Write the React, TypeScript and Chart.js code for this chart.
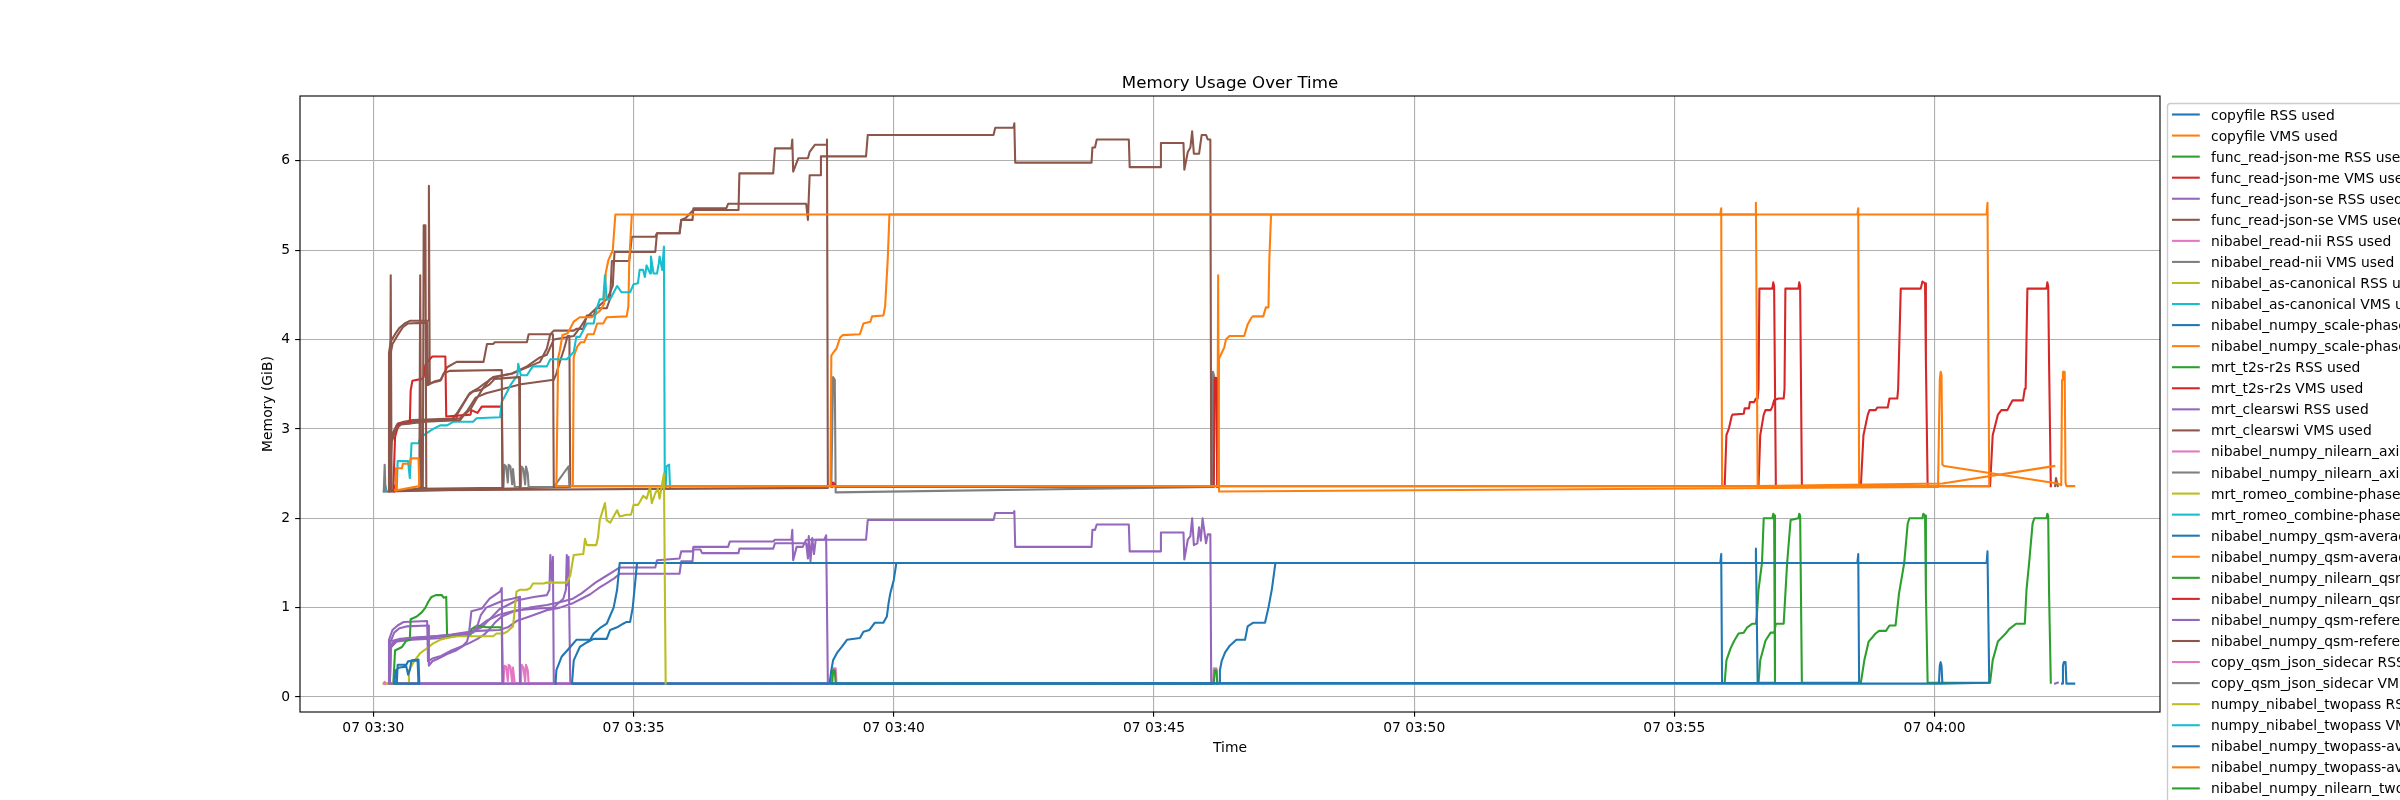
import React, { useEffect, useRef } from "react";
import { Chart, registerables } from "chart.js";

Chart.register(...registerables);

type Sample = [string, number];

// ---------------- axes ----------------
const xTickTimes = ["03:30", "03:35", "03:40", "03:45", "03:50", "03:55", "04:00"];
const xTickDay = "07";
const xLimits = ["03:28:35.4", "04:04:19.9"];
const yTicks = [0, 1, 2, 3, 4, 5, 6];
const yLimits = [-0.168, 6.726];

const chartTitle = "Memory Usage Over Time";
const xAxisTitle = "Time";
const yAxisTitle = "Memory (GiB)";

// ---------------- series (time, GiB) ----------------
const copyfileRss: Sample[] = [
  ["03:30:24", 0.15], ["03:30:26", 0.30], ["03:30:30", 0.33], ["03:30:38", 0.34], ["03:30:40", 0.25],
  ["03:30:42", 0.30], ["03:30:44", 0.41], ["03:30:52", 0.42], ["03:30:53", 0.15], ["03:30:27", 0.15],
  ["03:30:28", 0.36], ["03:30:38", 0.36], ["03:30:40", 0.40], ["03:30:51", 0.41], ["03:30:52", 0.15],
];
const copyfileVms: Sample[] = [
  ["03:30:25", 2.32], ["03:30:26", 2.56], ["03:30:33", 2.56], ["03:30:34", 2.61], ["03:30:42", 2.61],
  ["03:30:43", 2.67], ["03:30:52", 2.67], ["03:30:53", 2.36], ["03:30:25", 2.31],
];
const readJsonMeRss: Sample[] = [["03:30:24", 0.15], ["03:30:25", 0.17], ["03:30:26", 0.15]];
const readJsonMeVms: Sample[] = [["03:30:24", 2.30], ["03:30:25", 2.37], ["03:30:26", 2.31]];
const readJsonSeRss: Sample[] = [
  ["03:30:18", 0.15], ["03:30:19", 0.60], ["03:30:24", 0.72], ["03:30:30", 0.77], ["03:30:38", 0.79],
  ["03:31:03", 0.80], ["03:31:04", 0.35], ["03:31:08", 0.40], ["03:31:15", 0.43], ["03:31:25", 0.48],
  ["03:31:35", 0.52], ["03:31:42", 0.56], ["03:31:48", 0.62], ["03:31:50", 0.70], ["03:31:51", 0.78],
  ["03:31:53", 0.96], ["03:32:05", 0.99], ["03:32:09", 1.04], ["03:32:14", 1.10], ["03:32:20", 1.14],
  ["03:32:26", 1.18], ["03:32:28", 1.22], ["03:32:29", 0.15],
  ["03:30:19", 0.15], ["03:30:20", 0.58], ["03:30:25", 0.63], ["03:30:40", 0.66], ["03:31:10", 0.68],
  ["03:31:40", 0.70], ["03:31:55", 0.72], ["03:32:00", 0.80], ["03:32:04", 0.92], ["03:32:10", 1.00],
  ["03:32:20", 1.04], ["03:32:30", 1.08], ["03:32:40", 1.10], ["03:32:48", 1.12], ["03:32:49", 0.15],
];
const readJsonSeVms: Sample[] = [
  ["03:30:19", 2.30], ["03:30:20", 4.72], ["03:30:21", 2.30],
  ["03:30:18", 2.30], ["03:30:19", 3.80], ["03:30:22", 3.95], ["03:30:28", 4.05], ["03:30:34", 4.14],
  ["03:30:40", 4.18], ["03:31:02", 4.19], ["03:31:03", 3.49], ["03:31:10", 3.53], ["03:31:18", 3.55],
  ["03:31:21", 3.62], ["03:31:28", 3.65], ["03:32:28", 3.66], ["03:32:29", 2.34],
  ["03:30:53", 2.33], ["03:30:54", 4.72], ["03:30:55", 2.33], ["03:30:57", 2.33], ["03:30:58", 5.28],
  ["03:31:00", 5.28], ["03:31:01", 2.34],
  ["03:30:19", 2.30], ["03:30:21", 2.85], ["03:30:26", 3.00], ["03:30:32", 3.05], ["03:31:00", 3.08],
  ["03:31:40", 3.10], ["03:31:44", 3.15], ["03:31:52", 3.22], ["03:31:58", 3.32], ["03:32:06", 3.45],
  ["03:32:14", 3.50], ["03:32:20", 3.56], ["03:32:48", 3.58], ["03:32:49", 2.34],
];
const readNiiRss: Sample[] = [["03:30:12", 0.15], ["03:30:13", 0.17], ["03:30:14", 0.15]];
const readNiiVms: Sample[] = [["03:30:12", 2.30], ["03:30:13", 2.60], ["03:30:14", 2.30]];
const asCanonicalRss: Sample[] = [
  ["03:30:12", 0.15], ["03:30:40", 0.15], ["03:30:41", 0.30], ["03:30:47", 0.40], ["03:30:54", 0.49],
  ["03:31:01", 0.54], ["03:31:09", 0.60], ["03:31:17", 0.64], ["03:31:25", 0.66], ["03:31:36", 0.68],
  ["03:32:18", 0.68], ["03:32:22", 0.71], ["03:32:30", 0.71], ["03:32:34", 0.73], ["03:32:41", 0.79],
  ["03:32:45", 1.18], ["03:32:49", 1.20], ["03:32:57", 1.20], ["03:33:01", 1.22], ["03:33:04", 1.27],
  ["03:33:16", 1.27], ["03:33:20", 1.28], ["03:33:43", 1.28], ["03:33:47", 1.36], ["03:33:51", 1.59],
  ["03:34:02", 1.60], ["03:34:04", 1.77], ["03:34:06", 1.70], ["03:34:17", 1.70], ["03:34:19", 1.79],
  ["03:34:21", 1.98], ["03:34:27", 2.17], ["03:34:29", 1.98], ["03:34:33", 1.95], ["03:34:41", 2.09],
  ["03:34:44", 2.02], ["03:34:52", 2.04], ["03:34:57", 2.04], ["03:35:00", 2.15], ["03:35:05", 2.15],
  ["03:35:07", 2.18], ["03:35:11", 2.25], ["03:35:15", 2.22], ["03:35:19", 2.35], ["03:35:21", 2.17],
  ["03:35:25", 2.28], ["03:35:28", 2.33], ["03:35:30", 2.22], ["03:35:35", 2.50], ["03:35:37", 0.15],
];
const asCanonicalVms: Sample[] = [
  ["03:30:27", 2.33], ["03:30:28", 2.64], ["03:30:40", 2.64], ["03:30:42", 2.45], ["03:30:44", 2.84],
  ["03:30:52", 2.84], ["03:30:54", 2.90], ["03:31:01", 2.95], ["03:31:09", 3.00], ["03:31:17", 3.04],
  ["03:31:25", 3.04], ["03:31:32", 3.08], ["03:31:55", 3.08], ["03:31:59", 3.12], ["03:32:26", 3.13],
  ["03:32:28", 3.30], ["03:32:34", 3.41], ["03:32:38", 3.49], ["03:32:46", 3.60], ["03:32:47", 3.73],
  ["03:32:50", 3.60], ["03:32:57", 3.60], ["03:33:01", 3.66], ["03:33:04", 3.70], ["03:33:20", 3.70],
  ["03:33:24", 3.78], ["03:33:43", 3.78], ["03:33:51", 3.86], ["03:33:54", 4.03], ["03:33:58", 4.03],
  ["03:34:06", 4.18], ["03:34:14", 4.18], ["03:34:17", 4.33], ["03:34:21", 4.45], ["03:34:25", 4.45],
  ["03:34:27", 4.72], ["03:34:29", 4.45], ["03:34:33", 4.45], ["03:34:41", 4.60], ["03:34:46", 4.53],
  ["03:34:56", 4.53], ["03:35:00", 4.62], ["03:35:05", 4.63], ["03:35:07", 4.78], ["03:35:11", 4.78],
  ["03:35:13", 4.70], ["03:35:15", 4.83], ["03:35:19", 4.74], ["03:35:20", 4.93], ["03:35:23", 4.74],
  ["03:35:27", 4.74], ["03:35:29", 4.85], ["03:35:30", 4.93], ["03:35:33", 4.78], ["03:35:35", 5.04],
  ["03:35:36", 2.35],
];
const scalePhaseRss: Sample[] = [
  ["03:33:30", 0.15], ["03:33:31", 0.30], ["03:33:37", 0.45], ["03:33:47", 0.56], ["03:33:54", 0.64],
  ["03:34:10", 0.64], ["03:34:14", 0.71], ["03:34:21", 0.77], ["03:34:29", 0.82], ["03:34:37", 1.00],
  ["03:34:41", 1.20], ["03:34:44", 1.50], ["03:55:53", 1.50], ["03:55:54", 1.60], ["03:55:55", 0.16],
  ["03:33:49", 0.15], ["03:33:51", 0.41], ["03:33:58", 0.56], ["03:34:06", 0.61], ["03:34:14", 0.65],
  ["03:34:29", 0.65], ["03:34:33", 0.75], ["03:34:41", 0.78], ["03:34:48", 0.82], ["03:34:52", 0.84],
  ["03:34:56", 0.84], ["03:34:59", 1.00], ["03:35:02", 1.30], ["03:35:04", 1.50], ["03:56:33", 1.50],
  ["03:56:34", 1.66], ["03:56:36", 0.16],
];
const scalePhaseVms: Sample[] = [
  ["03:33:31", 2.36], ["03:33:33", 3.79], ["03:33:35", 3.88], ["03:33:38", 4.05], ["03:33:44", 4.07],
  ["03:33:51", 4.20], ["03:33:58", 4.25], ["03:34:12", 4.25], ["03:34:16", 4.28], ["03:34:22", 4.33],
  ["03:34:26", 4.40], ["03:34:28", 4.75], ["03:34:31", 4.89], ["03:34:36", 5.00], ["03:34:39", 5.40],
  ["03:55:53", 5.40], ["03:55:54", 5.47], ["03:55:55", 2.36],
  ["03:33:50", 2.36], ["03:33:51", 3.81], ["03:33:55", 3.92], ["03:33:59", 3.97], ["03:34:03", 3.97],
  ["03:34:07", 4.06], ["03:34:14", 4.06], ["03:34:18", 4.18], ["03:34:25", 4.18], ["03:34:29", 4.25],
  ["03:34:52", 4.26], ["03:34:54", 4.37], ["03:34:55", 4.88], ["03:34:58", 5.40], ["03:56:33", 5.40],
  ["03:56:34", 5.53], ["03:56:36", 2.36], ["04:00:09", 2.39], ["04:02:18", 2.585],
];
const t2sR2sRss: Sample[] = [
  ["03:30:23", 0.15], ["03:30:25", 0.52], ["03:30:33", 0.56], ["03:30:38", 0.63], ["03:30:42", 0.64],
  ["03:30:43", 0.87], ["03:30:50", 0.90], ["03:30:56", 0.95], ["03:31:00", 1.00], ["03:31:03", 1.06],
  ["03:31:07", 1.12], ["03:31:12", 1.14], ["03:31:19", 1.14], ["03:31:21", 1.11], ["03:31:24", 1.12],
  ["03:31:25", 0.68], ["03:31:52", 0.69], ["03:31:53", 0.76], ["03:32:00", 0.80], ["03:32:10", 0.78],
  ["03:32:28", 0.78], ["03:32:29", 0.15],
];
const t2sR2sVms: Sample[] = [
  ["03:30:23", 2.32], ["03:30:25", 2.91], ["03:30:27", 2.98], ["03:30:30", 3.06], ["03:30:42", 3.06],
  ["03:30:43", 3.43], ["03:30:45", 3.54], ["03:30:56", 3.56], ["03:30:58", 3.58], ["03:31:00", 3.72],
  ["03:31:03", 3.76], ["03:31:06", 3.79], ["03:31:08", 3.81], ["03:31:23", 3.81], ["03:31:24", 3.14],
  ["03:31:52", 3.16], ["03:31:53", 3.21], ["03:32:00", 3.18], ["03:32:05", 3.25], ["03:32:28", 3.25],
  ["03:32:29", 2.35],
];
const clearswiRss: Sample[] = [
  ["03:30:17", 0.15], ["03:30:18", 0.64], ["03:30:22", 0.75], ["03:30:28", 0.80], ["03:30:35", 0.84],
  ["03:31:02", 0.85], ["03:31:03", 0.40], ["03:31:08", 0.43], ["03:31:18", 0.46], ["03:31:30", 0.52],
  ["03:31:40", 0.56], ["03:31:50", 0.60], ["03:32:00", 0.65], ["03:32:08", 0.70], ["03:32:14", 0.76],
  ["03:32:20", 0.83], ["03:32:28", 0.90], ["03:32:40", 0.95], ["03:33:00", 1.00], ["03:33:20", 1.03],
  ["03:33:35", 1.06], ["03:33:50", 1.10], ["03:34:00", 1.16], ["03:34:08", 1.22], ["03:34:16", 1.28],
  ["03:34:26", 1.34], ["03:34:36", 1.40], ["03:34:44", 1.45], ["03:35:25", 1.45], ["03:35:27", 1.53],
  ["03:35:53", 1.55], ["03:35:55", 1.63], ["03:36:08", 1.63], ["03:36:09", 1.68], ["03:36:49", 1.68],
  ["03:36:51", 1.74], ["03:37:41", 1.74], ["03:37:43", 1.76], ["03:38:02", 1.76], ["03:38:03", 1.87],
  ["03:38:04", 1.53], ["03:38:08", 1.68], ["03:38:15", 1.68], ["03:38:19", 1.76], ["03:38:40", 1.76],
  ["03:38:42", 1.81], ["03:38:44", 0.15],
  ["03:30:19", 0.15], ["03:30:20", 0.55], ["03:30:26", 0.62], ["03:30:40", 0.65], ["03:31:20", 0.68],
  ["03:31:50", 0.72], ["03:32:05", 0.78], ["03:32:15", 0.88], ["03:32:25", 0.98], ["03:32:35", 1.03],
  ["03:32:45", 1.08], ["03:32:55", 1.10], ["03:33:05", 1.12], ["03:33:20", 1.14], ["03:33:23", 1.20],
  ["03:33:24", 1.59], ["03:33:26", 1.30], ["03:33:27", 1.57], ["03:33:28", 0.15],
];
const clearswiVms: Sample[] = [
  ["03:30:17", 2.30], ["03:30:18", 3.85], ["03:30:20", 3.98], ["03:30:25", 4.06], ["03:30:30", 4.13],
  ["03:30:36", 4.18], ["03:30:42", 4.21], ["03:31:03", 4.21], ["03:31:04", 5.72], ["03:31:05", 3.51],
  ["03:31:17", 3.54], ["03:31:25", 3.69], ["03:31:36", 3.75], ["03:32:07", 3.75], ["03:32:11", 3.95],
  ["03:32:18", 3.95], ["03:32:20", 3.97], ["03:32:57", 3.97], ["03:32:59", 4.06], ["03:33:24", 4.06],
  ["03:33:28", 4.10], ["03:33:51", 4.10], ["03:33:54", 4.12], ["03:34:02", 4.12], ["03:34:06", 4.27],
  ["03:34:14", 4.27], ["03:34:17", 4.35], ["03:34:29", 4.35], ["03:34:33", 4.46], ["03:34:35", 4.88],
  ["03:34:55", 4.88], ["03:34:58", 5.15], ["03:35:25", 5.15], ["03:35:27", 5.19], ["03:35:53", 5.19],
  ["03:35:55", 5.34], ["03:36:00", 5.36], ["03:36:09", 5.45], ["03:37:01", 5.45], ["03:37:02", 5.86],
  ["03:37:41", 5.86], ["03:37:43", 6.14], ["03:38:02", 6.14], ["03:38:03", 6.24], ["03:38:04", 5.88],
  ["03:38:10", 6.03], ["03:38:21", 6.03], ["03:38:23", 6.10], ["03:38:29", 6.18], ["03:38:42", 6.18],
  ["03:38:43", 6.24], ["03:38:44", 2.34],
  ["03:30:19", 2.31], ["03:30:21", 2.90], ["03:30:27", 3.04], ["03:30:35", 3.08], ["03:31:30", 3.10],
  ["03:31:36", 3.17], ["03:31:51", 3.40], ["03:32:00", 3.45], ["03:32:10", 3.52], ["03:32:18", 3.58],
  ["03:32:40", 3.62], ["03:33:00", 3.70], ["03:33:12", 3.75], ["03:33:20", 3.90], ["03:33:24", 4.06],
  ["03:33:27", 4.06], ["03:33:28", 2.35],
];
const nilearnAxialRss: Sample[] = [
  ["03:32:30", 0.15], ["03:32:31", 0.35], ["03:32:33", 0.34], ["03:32:35", 0.18], ["03:32:36", 0.36],
  ["03:32:38", 0.34], ["03:32:40", 0.16], ["03:32:41", 0.33], ["03:32:43", 0.15], ["03:32:50", 0.15],
  ["03:32:51", 0.36], ["03:32:53", 0.33], ["03:32:55", 0.17], ["03:32:56", 0.36], ["03:32:58", 0.30],
  ["03:32:59", 0.15], ["03:33:28", 0.15], ["03:33:47", 0.15],
];
const nilearnAxialVms: Sample[] = [
  ["03:32:30", 2.35], ["03:32:31", 2.60], ["03:32:33", 2.58], ["03:32:35", 2.40], ["03:32:36", 2.60],
  ["03:32:38", 2.58], ["03:32:40", 2.38], ["03:32:41", 2.55], ["03:32:43", 2.35], ["03:32:50", 2.35],
  ["03:32:51", 2.58], ["03:32:53", 2.55], ["03:32:55", 2.38], ["03:32:56", 2.58], ["03:32:58", 2.50],
  ["03:32:59", 2.35], ["03:33:28", 2.35], ["03:33:45", 2.58], ["03:33:46", 2.35],
];
const romeoRss: Sample[] = [["03:30:12", 0.15], ["03:30:15", 0.15]];
const romeoVms: Sample[] = [["03:30:12", 2.30], ["03:30:13", 2.36], ["03:30:14", 2.36], ["03:30:15", 2.30]];
const qsmAverageRss: Sample[] = [
  ["03:38:46", 0.15], ["03:38:48", 0.30], ["03:38:50", 0.41], ["03:38:55", 0.50], ["03:39:00", 0.56],
  ["03:39:06", 0.64], ["03:39:21", 0.66], ["03:39:25", 0.73], ["03:39:32", 0.75], ["03:39:38", 0.83],
  ["03:39:48", 0.83], ["03:39:52", 0.90], ["03:39:54", 1.05], ["03:39:56", 1.16], ["03:40:00", 1.31],
  ["03:40:03", 1.50], ["03:58:31", 1.50], ["03:58:32", 1.60], ["03:58:33", 0.16],
  ["03:46:15", 0.15], ["03:46:16", 0.30], ["03:46:18", 0.40], ["03:46:22", 0.50], ["03:46:27", 0.57],
  ["03:46:35", 0.64], ["03:46:45", 0.64], ["03:46:48", 0.79], ["03:46:54", 0.83], ["03:47:08", 0.83],
  ["03:47:12", 1.00], ["03:47:16", 1.21], ["03:47:20", 1.50], ["04:01:00", 1.50], ["04:01:01", 1.63],
  ["04:01:03", 0.16], ["04:00:05", 0.15], ["04:00:06", 0.35], ["04:00:07", 0.39], ["04:00:08", 0.35],
  ["04:00:09", 0.15], ["03:33:50", 0.15],
];
const qsmAverageVms: Sample[] = [
  ["03:38:47", 2.36], ["03:38:48", 3.82], ["03:38:50", 3.85], ["03:38:54", 3.90], ["03:38:56", 3.96],
  ["03:38:58", 4.02], ["03:39:01", 4.05], ["03:39:21", 4.06], ["03:39:25", 4.18], ["03:39:33", 4.20],
  ["03:39:35", 4.26], ["03:39:48", 4.27], ["03:39:50", 4.37], ["03:39:53", 4.89], ["03:39:55", 5.40],
  ["03:58:31", 5.40], ["03:58:32", 5.47], ["03:58:33", 2.36],
  ["03:46:14", 2.36], ["03:46:15", 3.79], ["03:46:18", 3.85], ["03:46:21", 3.91], ["03:46:23", 4.00],
  ["03:46:27", 4.04], ["03:46:44", 4.04], ["03:46:48", 4.17], ["03:46:52", 4.24], ["03:46:54", 4.26],
  ["03:47:06", 4.26], ["03:47:09", 4.36], ["03:47:12", 4.36], ["03:47:13", 4.90], ["03:47:15", 5.40],
  ["04:01:00", 5.40], ["04:01:01", 5.53], ["04:01:03", 2.36], ["03:33:30", 2.36],
];
const nilearnQsmRss: Sample[] = [
  ["03:38:49", 0.15], ["03:38:50", 0.30], ["03:38:52", 0.30], ["03:38:53", 0.15],
  ["03:46:09", 0.15], ["03:46:10", 0.30], ["03:46:12", 0.30], ["03:46:13", 0.15],
];
const nilearnQsmVms: Sample[] = [
  ["03:38:49", 2.35], ["03:38:50", 2.40], ["03:38:52", 2.38], ["03:38:53", 2.35],
  ["03:46:09", 2.35], ["03:46:10", 3.57], ["03:46:12", 3.57], ["03:46:13", 2.35],
];
const qsmReferenceRss: Sample[] = [
  ["03:30:19", 0.15], ["03:30:20", 0.56], ["03:30:27", 0.62], ["03:30:45", 0.64], ["03:31:20", 0.66],
  ["03:31:50", 0.70], ["03:32:10", 0.85], ["03:32:25", 0.92], ["03:32:45", 0.97], ["03:33:10", 0.99],
  ["03:33:28", 1.00], ["03:33:33", 1.05], ["03:33:39", 1.10], ["03:33:42", 1.20], ["03:33:43", 1.59],
  ["03:33:44", 1.25], ["03:33:45", 1.57], ["03:33:47", 0.15],
  ["03:30:18", 0.15], ["03:30:19", 0.62], ["03:30:30", 0.65], ["03:30:45", 0.66], ["03:31:10", 0.68],
  ["03:31:30", 0.70], ["03:31:45", 0.72], ["03:32:00", 0.74], ["03:32:25", 0.75], ["03:32:35", 0.78],
  ["03:32:45", 0.85], ["03:33:00", 0.90], ["03:33:20", 0.97], ["03:33:35", 1.00], ["03:33:50", 1.05],
  ["03:34:00", 1.10], ["03:34:10", 1.15], ["03:34:20", 1.22], ["03:34:30", 1.28], ["03:34:38", 1.33],
  ["03:34:44", 1.38], ["03:35:53", 1.38], ["03:35:55", 1.52], ["03:36:08", 1.52], ["03:36:09", 1.65],
  ["03:36:17", 1.65], ["03:36:19", 1.61], ["03:37:01", 1.61], ["03:37:02", 1.66], ["03:37:41", 1.66],
  ["03:37:43", 1.72], ["03:38:19", 1.72], ["03:38:21", 1.55], ["03:38:22", 1.80], ["03:38:24", 1.52],
  ["03:38:26", 1.78], ["03:38:28", 1.60], ["03:38:30", 1.76], ["03:39:28", 1.76], ["03:39:30", 1.98],
  ["03:41:55", 1.98], ["03:41:57", 2.06], ["03:42:18", 2.06], ["03:42:19", 2.08], ["03:42:20", 1.68],
  ["03:43:48", 1.68], ["03:43:49", 1.87], ["03:43:52", 1.87], ["03:43:54", 1.93], ["03:44:31", 1.93],
  ["03:44:32", 1.63], ["03:45:07", 1.63], ["03:45:08", 1.84], ["03:45:34", 1.84], ["03:45:35", 1.54],
  ["03:45:39", 1.76], ["03:45:42", 1.80], ["03:45:44", 2.00], ["03:45:46", 1.70], ["03:45:50", 1.72],
  ["03:45:52", 1.90], ["03:45:54", 1.75], ["03:45:56", 2.00], ["03:46:00", 1.72], ["03:46:02", 1.82],
  ["03:46:05", 1.82], ["03:46:06", 0.15],
];
const qsmReferenceVms: Sample[] = [
  ["03:30:19", 2.31], ["03:30:21", 2.93], ["03:30:28", 3.06], ["03:30:45", 3.10], ["03:31:40", 3.12],
  ["03:31:48", 3.20], ["03:31:58", 3.35], ["03:32:10", 3.40], ["03:32:30", 3.45], ["03:32:50", 3.50],
  ["03:33:28", 3.55], ["03:33:31", 3.62], ["03:33:35", 3.75], ["03:33:40", 3.90], ["03:33:44", 4.04],
  ["03:33:46", 4.04], ["03:33:47", 2.35],
  ["03:30:18", 2.30], ["03:30:20", 2.88], ["03:30:26", 3.02], ["03:30:32", 3.06], ["03:31:00", 3.09],
  ["03:31:35", 3.10], ["03:31:37", 3.17], ["03:31:50", 3.38], ["03:31:55", 3.42], ["03:32:05", 3.44],
  ["03:32:15", 3.56], ["03:32:22", 3.58], ["03:32:40", 3.62], ["03:32:57", 3.70], ["03:33:12", 3.80],
  ["03:33:20", 3.83], ["03:33:28", 4.00], ["03:33:51", 4.04], ["03:33:58", 4.13], ["03:34:06", 4.25],
  ["03:34:17", 4.35], ["03:34:30", 4.46], ["03:34:36", 4.60], ["03:34:38", 4.98], ["03:35:25", 4.98],
  ["03:35:27", 5.19], ["03:35:53", 5.19], ["03:35:55", 5.34], ["03:36:08", 5.34], ["03:36:09", 5.47],
  ["03:36:47", 5.47], ["03:36:49", 5.52], ["03:38:19", 5.52], ["03:38:21", 5.34], ["03:38:23", 5.84],
  ["03:38:35", 5.84], ["03:38:36", 6.05], ["03:39:28", 6.05], ["03:39:30", 6.29], ["03:41:55", 6.29],
  ["03:41:57", 6.37], ["03:42:18", 6.37], ["03:42:19", 6.42], ["03:42:20", 5.98], ["03:43:48", 5.98],
  ["03:43:49", 6.15], ["03:43:52", 6.15], ["03:43:54", 6.24], ["03:44:31", 6.24], ["03:44:32", 5.93],
  ["03:45:07", 5.93], ["03:45:08", 6.20], ["03:45:34", 6.20], ["03:45:35", 5.90], ["03:45:39", 6.10],
  ["03:45:42", 6.15], ["03:45:44", 6.33], ["03:45:46", 6.08], ["03:45:52", 6.08], ["03:45:55", 6.29],
  ["03:46:00", 6.29], ["03:46:02", 6.24], ["03:46:05", 6.24], ["03:46:06", 2.35],
];
const sidecarRss: Sample[] = [
  ["03:38:48", 0.15], ["03:38:50", 0.32], ["03:38:53", 0.32], ["03:38:54", 0.15],
  ["03:46:08", 0.15], ["03:46:09", 0.32], ["03:46:12", 0.32], ["03:46:13", 0.15],
];
const sidecarVms: Sample[] = [
  ["03:38:48", 2.35], ["03:38:50", 3.58], ["03:38:52", 3.55], ["03:38:53", 2.29], ["03:46:07", 2.35],
  ["03:46:08", 3.64], ["03:46:10", 3.57], ["03:46:12", 3.57], ["03:46:13", 2.35],
];
const twopassRss: Sample[] = [["03:35:37", 0.15], ["03:35:42", 0.15]];
const twopassVms: Sample[] = [["03:35:37", 2.35], ["03:35:38", 2.58], ["03:35:41", 2.60], ["03:35:42", 2.35]];
const twopassAvgRss: Sample[] = [
  ["04:02:27", 0.15], ["04:02:28", 0.35], ["04:02:29", 0.39], ["04:02:31", 0.39], ["04:02:32", 0.15],
  ["04:02:41", 0.15],
];
const twopassAvgVms: Sample[] = [
  ["03:46:13", 2.36], ["03:46:14", 4.72], ["03:46:15", 2.30], ["04:00:04", 2.35], ["04:00:06", 3.55],
  ["04:00:07", 3.64], ["04:00:08", 3.60], ["04:00:09", 2.60], ["04:00:11", 2.585], ["04:02:22", 2.39],
  ["04:02:26", 2.37], ["04:02:27", 3.55], ["04:02:28", 3.64], ["04:02:30", 3.64], ["04:02:31", 2.40],
  ["04:02:32", 2.36], ["04:02:41", 2.36],
];
const nilearnTwopassRss: Sample[] = [
  ["03:55:58", 0.16], ["03:56:00", 0.41], ["03:56:05", 0.55], ["03:56:09", 0.63], ["03:56:14", 0.71],
  ["03:56:20", 0.72], ["03:56:24", 0.78], ["03:56:30", 0.82], ["03:56:34", 0.82], ["03:56:35", 0.90],
  ["03:56:37", 1.20], ["03:56:41", 1.50], ["03:56:43", 2.00], ["03:56:53", 2.00], ["03:56:54", 2.05],
  ["03:56:55", 2.03], ["03:56:56", 0.16],
  ["03:56:37", 0.16], ["03:56:39", 0.41], ["03:56:45", 0.63], ["03:56:51", 0.72], ["03:56:55", 0.72],
  ["03:56:57", 0.82], ["03:57:06", 0.82], ["03:57:08", 1.16], ["03:57:10", 1.50], ["03:57:14", 1.98],
  ["03:57:23", 2.00], ["03:57:24", 2.05], ["03:57:25", 2.03], ["03:57:27", 0.16],
  ["03:58:35", 0.16], ["03:58:39", 0.41], ["03:58:44", 0.62], ["03:58:52", 0.71], ["03:58:56", 0.74],
  ["03:59:04", 0.74], ["03:59:08", 0.80], ["03:59:15", 0.80], ["03:59:19", 1.16], ["03:59:25", 1.50],
  ["03:59:29", 1.94], ["03:59:31", 2.00], ["03:59:46", 2.00], ["03:59:47", 2.05], ["03:59:49", 2.03],
  ["03:59:50", 1.16], ["03:59:52", 0.16],
  ["04:01:04", 0.16], ["04:01:07", 0.41], ["04:01:13", 0.62], ["04:01:22", 0.71], ["04:01:26", 0.76],
  ["04:01:34", 0.82], ["04:01:44", 0.82], ["04:01:46", 1.20], ["04:01:49", 1.50], ["04:01:53", 1.94],
  ["04:01:55", 2.00], ["04:02:09", 2.00], ["04:02:10", 2.05], ["04:02:11", 2.03], ["04:02:12", 1.16],
  ["04:02:14", 0.16],
];
const nilearnTwopassVms: Sample[] = [
  ["03:55:58", 2.36], ["03:56:00", 2.93], ["03:56:03", 3.01], ["03:56:06", 3.14], ["03:56:07", 3.16],
  ["03:56:20", 3.17], ["03:56:21", 3.23], ["03:56:26", 3.23], ["03:56:27", 3.30], ["03:56:32", 3.30],
  ["03:56:34", 3.34], ["03:56:36", 3.34], ["03:56:37", 3.45], ["03:56:38", 4.57], ["03:56:53", 4.57],
  ["03:56:54", 4.64], ["03:56:55", 4.60], ["03:56:57", 2.36],
  ["03:56:37", 2.36], ["03:56:39", 2.93], ["03:56:43", 3.16], ["03:56:45", 3.21], ["03:56:51", 3.21],
  ["03:56:53", 3.25], ["03:56:55", 3.32], ["03:57:00", 3.34], ["03:57:06", 3.34], ["03:57:07", 3.45],
  ["03:57:08", 4.57], ["03:57:23", 4.57], ["03:57:24", 4.64], ["03:57:25", 4.60], ["03:57:27", 2.36],
  ["03:58:35", 2.36], ["03:58:38", 2.93], ["03:58:43", 3.16], ["03:58:45", 3.21], ["03:58:52", 3.21],
  ["03:58:54", 3.24], ["03:59:06", 3.24], ["03:59:08", 3.34], ["03:59:17", 3.34], ["03:59:18", 3.45],
  ["03:59:21", 4.57], ["03:59:44", 4.57], ["03:59:46", 4.65], ["03:59:49", 4.63], ["03:59:50", 3.75],
  ["03:59:52", 2.36],
  ["04:01:04", 2.36], ["04:01:07", 2.93], ["04:01:13", 3.16], ["04:01:17", 3.21], ["04:01:24", 3.21],
  ["04:01:26", 3.25], ["04:01:30", 3.32], ["04:01:42", 3.32], ["04:01:44", 3.45], ["04:01:45", 3.45],
  ["04:01:47", 4.57], ["04:02:09", 4.57], ["04:02:10", 4.64], ["04:02:11", 4.60], ["04:02:12", 3.75],
  ["04:02:14", 2.36],
];
const twopassRefRss: Sample[] = [["04:02:19", 0.15], ["04:02:22", 0.16]];
const twopassRefVms: Sample[] = [["04:02:19", 2.36], ["04:02:20", 2.45], ["04:02:22", 2.36]];

const seriesLabels = [
  "copyfile RSS used", "copyfile VMS used",
  "func_read-json-me RSS used", "func_read-json-me VMS used",
  "func_read-json-se RSS used", "func_read-json-se VMS used",
  "nibabel_read-nii RSS used", "nibabel_read-nii VMS used",
  "nibabel_as-canonical RSS used", "nibabel_as-canonical VMS used",
  "nibabel_numpy_scale-phase RSS used", "nibabel_numpy_scale-phase VMS used",
  "mrt_t2s-r2s RSS used", "mrt_t2s-r2s VMS used",
  "mrt_clearswi RSS used", "mrt_clearswi VMS used",
  "nibabel_numpy_nilearn_axial RSS used", "nibabel_numpy_nilearn_axial VMS used",
  "mrt_romeo_combine-phase RSS used", "mrt_romeo_combine-phase VMS used",
  "nibabel_numpy_qsm-average RSS used", "nibabel_numpy_qsm-average VMS used",
  "nibabel_numpy_nilearn_qsm RSS used", "nibabel_numpy_nilearn_qsm VMS used",
  "nibabel_numpy_qsm-reference RSS used", "nibabel_numpy_qsm-reference VMS used",
  "copy_qsm_json_sidecar RSS used", "copy_qsm_json_sidecar VMS used",
  "numpy_nibabel_twopass RSS used", "numpy_nibabel_twopass VMS used",
  "nibabel_numpy_twopass-average RSS used", "nibabel_numpy_twopass-average VMS used",
  "nibabel_numpy_nilearn_twopass RSS used", "nibabel_numpy_nilearn_twopass VMS used",
  "nibabel_numpy_twopass-reference RSS used", "nibabel_numpy_twopass-reference VMS used",
];
const seriesValues: Sample[][] = [
  copyfileRss, copyfileVms, readJsonMeRss, readJsonMeVms, readJsonSeRss, readJsonSeVms,
  readNiiRss, readNiiVms, asCanonicalRss, asCanonicalVms, scalePhaseRss, scalePhaseVms,
  t2sR2sRss, t2sR2sVms, clearswiRss, clearswiVms, nilearnAxialRss, nilearnAxialVms,
  romeoRss, romeoVms, qsmAverageRss, qsmAverageVms, nilearnQsmRss, nilearnQsmVms,
  qsmReferenceRss, qsmReferenceVms, sidecarRss, sidecarVms, twopassRss, twopassVms,
  twopassAvgRss, twopassAvgVms, nilearnTwopassRss, nilearnTwopassVms, twopassRefRss, twopassRefVms,
];
const palette = [
  "#1f77b4", "#ff7f0e", "#2ca02c", "#d62728", "#9467bd",
  "#8c564b", "#e377c2", "#7f7f7f", "#bcbd22", "#17becf",
];

const FONT = "DejaVu Sans";
const PX = 100 / 72; // points -> pixels at 100 dpi

function toMin(t: string): number {
  const p = t.split(":").map(Number);
  return p[0] * 60 + p[1] + (p[2] || 0) / 60;
}

function fmtTick(v: number): string {
  const total = Math.round(v);
  const h = Math.floor(total / 60);
  const m = total % 60;
  return `${xTickDay} ${String(h).padStart(2, "0")}:${String(m).padStart(2, "0")}`;
}

const decorPlugin = {
  id: "mplDecor",
  afterDatasetsDraw(chart: any) {
    const { ctx, chartArea: a } = chart;
    ctx.save();
    ctx.strokeStyle = "#000";
    ctx.lineWidth = 0.8 * PX;
    ctx.strokeRect(a.left, a.top, a.right - a.left, a.bottom - a.top);
    ctx.restore();
  },
  afterDraw(chart: any) {
    const { ctx, chartArea: a } = chart;
    ctx.save();
    ctx.fillStyle = "#000";
    // title
    ctx.font = `${12 * PX}px "${FONT}"`;
    ctx.textAlign = "center";
    ctx.textBaseline = "alphabetic";
    ctx.fillText(chartTitle, (a.left + a.right) / 2, a.top - 8.5);
    // axis titles
    ctx.font = `${10 * PX}px "${FONT}"`;
    ctx.fillText(xAxisTitle, (a.left + a.right) / 2, a.bottom + 40);
    ctx.save();
    ctx.translate(a.left - 28, (a.top + a.bottom) / 2);
    ctx.rotate(-Math.PI / 2);
    ctx.fillText(yAxisTitle, 0, 0);
    ctx.restore();

    // legend (upper left, outside the axes)
    const fs = 10 * PX;
    const lx = a.right + 7.5;
    const ly = a.top + 7.5;
    ctx.beginPath();
    if ((ctx as any).roundRect) (ctx as any).roundRect(lx, ly, 600, 900, 3);
    else ctx.rect(lx, ly, 600, 900);
    ctx.fillStyle = "rgba(255,255,255,0.8)";
    ctx.fill();
    ctx.strokeStyle = "#cccccc";
    ctx.lineWidth = 1 * PX;
    ctx.stroke();
    ctx.font = `${fs}px "${FONT}"`;
    ctx.textAlign = "left";
    ctx.textBaseline = "alphabetic";
    chart.data.datasets.forEach((ds: any, i: number) => {
      const y = ly + 11 + i * 21.06;
      ctx.strokeStyle = ds.borderColor;
      ctx.lineWidth = 1.5 * PX;
      ctx.beginPath();
      ctx.moveTo(lx + 4.5, y);
      ctx.lineTo(lx + 4.5 + 2 * fs, y);
      ctx.stroke();
      ctx.fillStyle = "#000";
      ctx.fillText(ds.label, lx + 43.5, y + 5);
    });
    ctx.restore();
  },
};

export default function App() {
  const canvasRef = useRef<HTMLCanvasElement>(null);

  useEffect(() => {
    const canvas = canvasRef.current;
    if (!canvas) return;
    Chart.defaults.font.family = FONT;

    const datasets = seriesValues.map((series, i) => ({
      label: seriesLabels[i],
      data: series.map(([t, v]) => ({ x: toMin(t), y: v })),
      borderColor: palette[i % palette.length],
      backgroundColor: palette[i % palette.length],
      borderWidth: 1.5 * PX,
      pointRadius: 0,
      pointHoverRadius: 0,
      tension: 0,
      fill: false,
      borderJoinStyle: "round" as const,
      borderCapStyle: "square" as const,
    }));

    const chart = new Chart(canvas, {
      type: "line",
      data: { datasets },
      options: {
        responsive: false,
        animation: false,
        devicePixelRatio: 1,
        events: [],
        layout: { padding: { left: 240, right: 240, top: 96, bottom: 48 } },
        plugins: {
          legend: { display: false },
          title: { display: false },
          tooltip: { enabled: false },
        },
        scales: {
          x: {
            type: "linear",
            min: toMin(xLimits[0]),
            max: toMin(xLimits[1]),
            afterBuildTicks: (scale: any) => {
              scale.ticks = xTickTimes.map((t) => ({ value: toMin(t) }));
            },
            afterFit: (scale: any) => {
              scale.height = 40;
            },
            ticks: {
              autoSkip: false,
              maxRotation: 0,
              minRotation: 0,
              padding: 3.4,
              color: "#000",
              font: { family: FONT, size: 10 * PX },
              callback: (v: any) => fmtTick(Number(v)),
            },
            grid: {
              color: "#b0b0b0",
              lineWidth: 0.8 * PX,
              tickColor: "#000",
              tickLength: 3.5 * PX,
              tickWidth: 0.8 * PX,
            },
            border: { display: false },
          },
          y: {
            type: "linear",
            min: yLimits[0],
            max: yLimits[1],
            afterBuildTicks: (scale: any) => {
              scale.ticks = yTicks.map((v) => ({ value: v }));
            },
            afterFit: (scale: any) => {
              scale.width = 60;
            },
            ticks: {
              padding: 5,
              color: "#000",
              font: { family: FONT, size: 10 * PX },
              callback: (v: any) => String(v),
            },
            grid: {
              color: "#b0b0b0",
              lineWidth: 0.8 * PX,
              tickColor: "#000",
              tickLength: 3.5 * PX,
              tickWidth: 0.8 * PX,
            },
            border: { display: false },
          },
        },
      },
      plugins: [decorPlugin],
    });

    return () => chart.destroy();
  }, []);

  return (
    <div style={{ position: "absolute", left: 0, top: 0, width: 2400, height: 800, background: "#fff" }}>
      <canvas ref={canvasRef} width={2400} height={800} style={{ display: "block" }} />
    </div>
  );
}
